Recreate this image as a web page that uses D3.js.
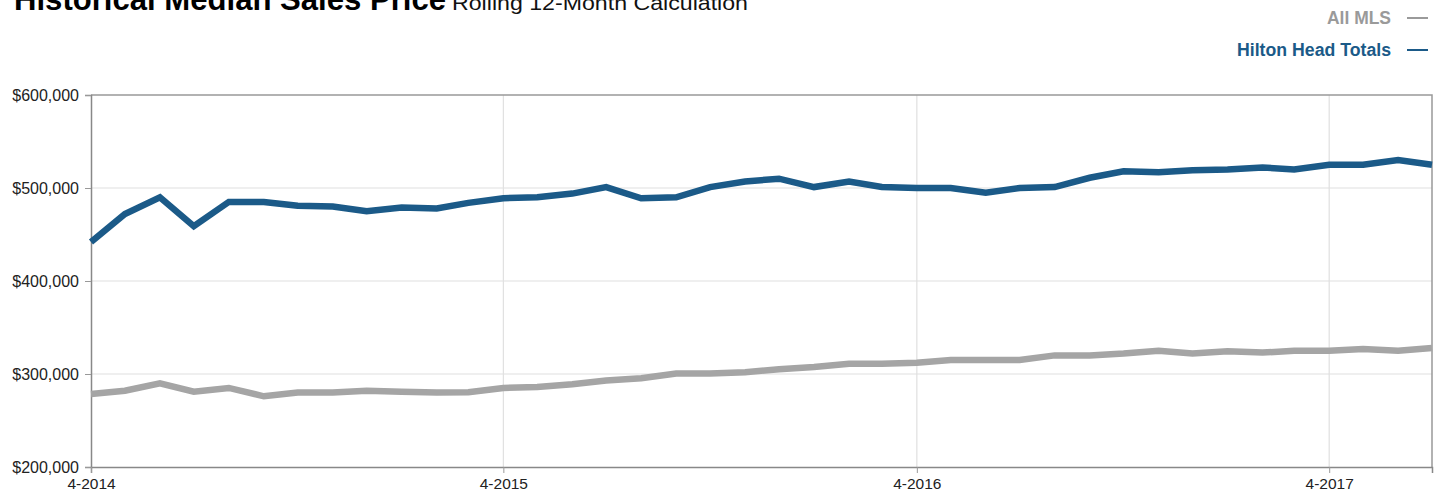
<!DOCTYPE html>
<html>
<head>
<meta charset="utf-8">
<script src="https://cdn.jsdelivr.net/npm/d3@7"></script>
<style>
  html, body { margin: 0; padding: 0; background: #fff; }
  svg { display: block; font-family: "Liberation Sans", Arial, Helvetica, sans-serif; }
</style>
</head>
<body>
<svg id="chart" width="1439" height="495"></svg>
<script>
// ---- Data (monthly, rolling 12-month median sales price) ----
const startMonth = "2014-04";   // first month
const hiltonHead = [442000, 472000, 490000, 459000, 485000, 485000, 481000, 480000, 475000, 479000,
                    478000, 484000, 489000, 490000, 494000, 501000, 489000, 490000, 501000, 507000,
                    510000, 501000, 507000, 501000, 500000, 500000, 495000, 500000, 501000, 511000,
                    518000, 517000, 519000, 520000, 522000, 520000, 525000, 525000, 530000, 525000];
const allMLS     = [278500, 282000, 290000, 281000, 285000, 276000, 280000, 280000, 282000, 281000,
                    280000, 280500, 285000, 286000, 289000, 293000, 295500, 300500, 300500, 302000,
                    305000, 307500, 311000, 311000, 312000, 315000, 315000, 315000, 320000, 320000,
                    322000, 325000, 322000, 324500, 323000, 325000, 325000, 327000, 325000, 328000];
const yTicks = [200000, 300000, 400000, 500000, 600000];
const xTickLabels = ["4-2014", "4-2015", "4-2016", "4-2017"];
const seriesNames = ["All MLS", "Hilton Head Totals"];
const seriesColors = ["#a5a5a5", "#1b5a88"];
const legendTextColors = ["#9a9a9a", "#1b5a88"];

// ---- Layout ----
const svg = d3.select("#chart");
const margin = { left: 91, right: 1439 - 1432, top: 95, bottom: 495 - 467 };
const W = 1439, H = 495;

const parseMonth = d3.timeParse("%Y-%m");
const t0 = parseMonth(startMonth);
const dates = hiltonHead.map((_, i) => d3.timeMonth.offset(t0, i));
const tickDates = xTickLabels.map(s => { const [m, y] = s.split("-"); return new Date(+y, +m - 1, 1); });

const x = d3.scaleTime()
  .domain([dates[0], dates[dates.length - 1]])
  .range([margin.left, W - margin.right]);
const y = d3.scaleLinear()
  .domain([200000, 600000])
  .range([H - margin.bottom, margin.top]);

// gridlines
const grid = svg.append("g");
grid.selectAll("line.h").data(yTicks.slice(1, -1)).join("line")
  .attr("x1", margin.left).attr("x2", W - margin.right)
  .attr("y1", d => y(d)).attr("y2", d => y(d))
  .attr("stroke", "#e0e0e0").attr("stroke-width", 1.2);
grid.selectAll("line.v").data(tickDates.slice(1)).join("line")
  .attr("x1", d => x(d)).attr("x2", d => x(d))
  .attr("y1", margin.top).attr("y2", H - margin.bottom)
  .attr("stroke", "#e0e0e0").attr("stroke-width", 1.2);

// frame (top + right)
svg.append("path")
  .attr("d", `M${margin.left},${margin.top}H${W - margin.right}V${H - margin.bottom}`)
  .attr("fill", "none").attr("stroke", "#999").attr("stroke-width", 1.5);

// y axis
const yAxis = d3.axisLeft(y).tickValues(yTicks).tickSize(6).tickPadding(6)
  .tickFormat(d => "$" + d3.format(",")(d));
const gy = svg.append("g").attr("transform", `translate(${margin.left},0)`).call(yAxis);
gy.select(".domain").attr("stroke", "#888").attr("stroke-width", 1.5);
gy.selectAll(".tick line").attr("stroke", "#999");
gy.selectAll(".tick text").attr("fill", "#222").attr("font-size", 16).style("font-size", "16px")
  .style("font-family", '"Liberation Sans", Arial, sans-serif');

// x axis
const xAxis = d3.axisBottom(x).tickValues(tickDates).tickSize(6).tickPadding(5)
  .tickFormat((d, i) => xTickLabels[i]);
const gx = svg.append("g").attr("transform", `translate(0,${H - margin.bottom})`).call(xAxis);
gx.select(".domain").attr("stroke", "#888").attr("stroke-width", 1.5);
gx.selectAll(".tick line").attr("stroke", "#999");
gx.selectAll(".tick text").attr("fill", "#222").style("font-size", "15.5px")
  .style("font-family", '"Liberation Sans", Arial, sans-serif');

// lines
const line = d3.line().x((d, i) => x(dates[i])).y(d => y(d));
[allMLS, hiltonHead].forEach((s, k) => {
  svg.append("path").datum(s)
    .attr("d", line)
    .attr("fill", "none")
    .attr("stroke", seriesColors[k])
    .attr("stroke-width", 6.5)
    .attr("stroke-linejoin", "miter")
    .attr("stroke-linecap", "butt");
});

// title
svg.append("text").attr("x", 14).attr("y", 10)
  .attr("textLength", 432).attr("lengthAdjust", "spacingAndGlyphs")
  .style("font-size", "31px").style("font-weight", "bold").attr("fill", "#000")
  .text("Historical Median Sales Price");
svg.append("text").attr("x", 452).attr("y", 10)
  .attr("textLength", 296).attr("lengthAdjust", "spacingAndGlyphs")
  .style("font-size", "21px").attr("fill", "#111")
  .text("Rolling 12-Month Calculation");

// legend
const legendY = [24, 56];
const legendW = [64, 154];
seriesNames.forEach((name, k) => {
  svg.append("text").attr("x", 1391).attr("y", legendY[k])
    .attr("text-anchor", "end")
    .attr("textLength", legendW[k]).attr("lengthAdjust", "spacingAndGlyphs")
    .style("font-size", "18px").style("font-weight", "bold")
    .attr("fill", legendTextColors[k]).text(name);
  svg.append("line")
    .attr("x1", 1407).attr("x2", 1428)
    .attr("y1", legendY[k] - 6).attr("y2", legendY[k] - 6)
    .attr("stroke", legendTextColors[k]).attr("stroke-width", 2);
});
</script>
</body>
</html>
